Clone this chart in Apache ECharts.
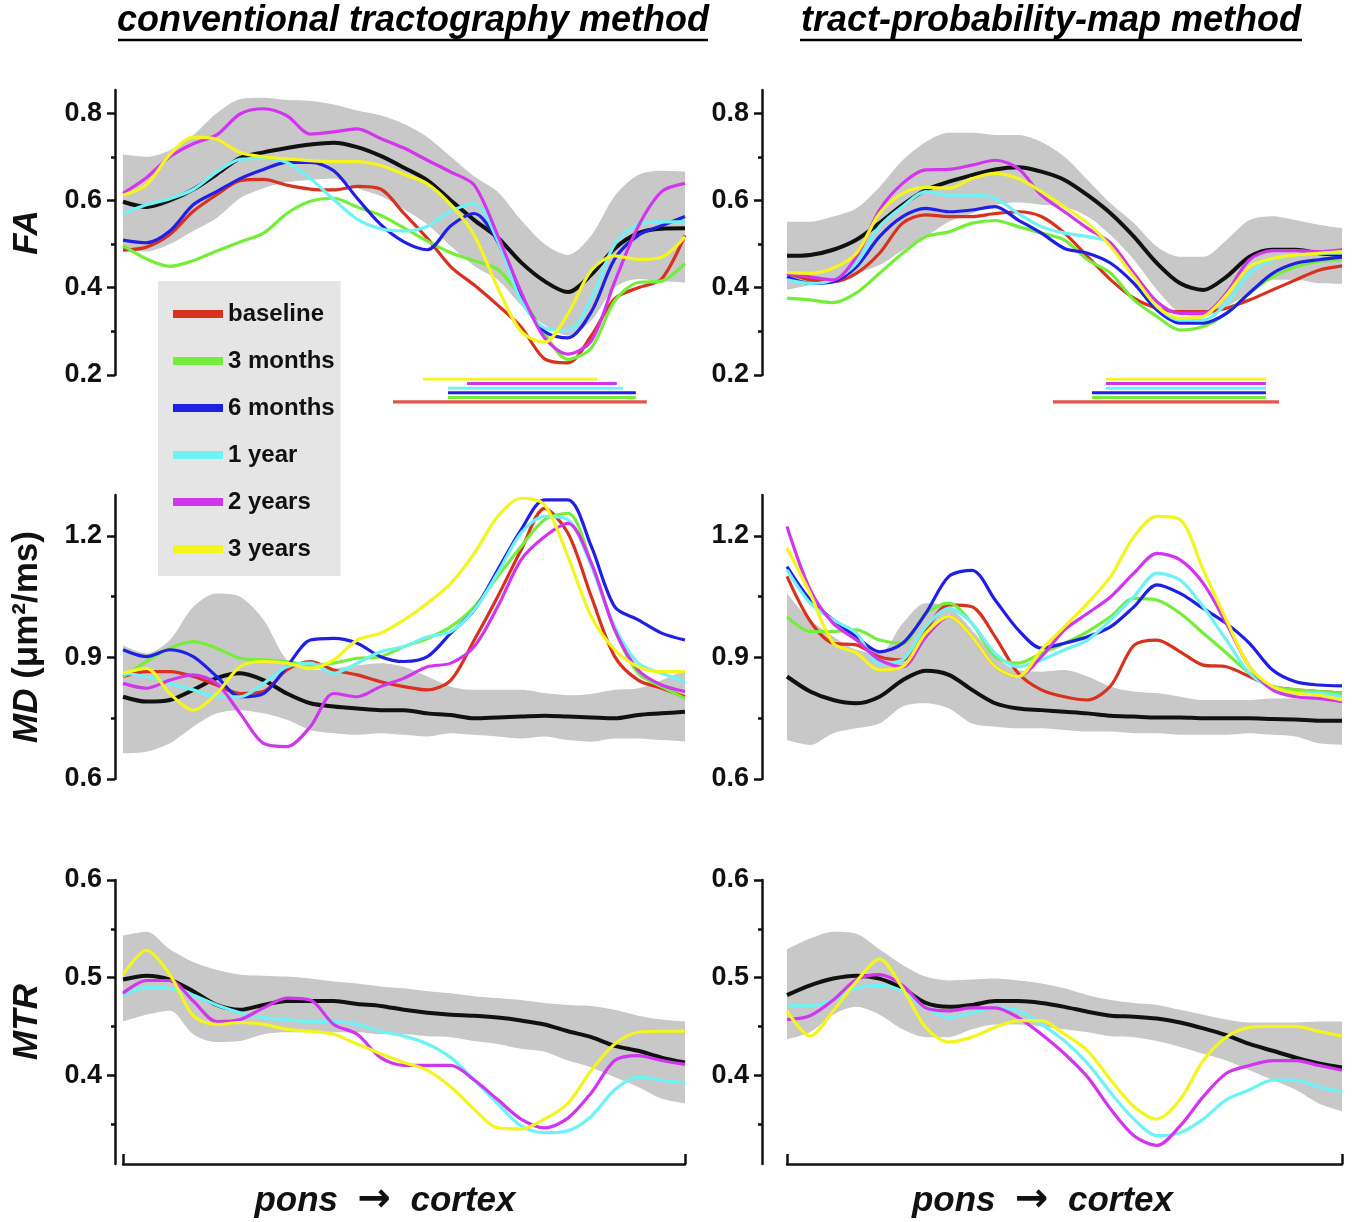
<!DOCTYPE html>
<html>
<head>
<meta charset="utf-8">
<script src="https://cdn.jsdelivr.net/npm/echarts@6/dist/echarts.min.js"></script>
<style>
html,body{margin:0;padding:0;background:#fff;}
#chart{width:1359px;height:1222px;}
</style>
</head>
<body>
<div id="chart"></div>
<script>
// ---------- data ----------
const tractPos = [0,1,2,3,4,5,6,7,8,9,10,11,12,13,14,15,16,17,18,19,20,21,22,23,24];
const groups = ['baseline','3 months','6 months','1 year','2 years','3 years'];

// FA, conventional tractography
const faL_lo   = [0.49,0.483,0.50,0.53,0.56,0.605,0.628,0.642,0.647,0.65,0.628,0.61,0.58,0.545,0.495,0.45,0.418,0.36,0.315,0.29,0.325,0.40,0.42,0.415,0.412];
const faL_hi   = [0.705,0.70,0.715,0.75,0.80,0.832,0.835,0.83,0.828,0.82,0.806,0.795,0.775,0.745,0.70,0.655,0.62,0.555,0.50,0.475,0.52,0.61,0.658,0.668,0.666];
const faL_mean = [0.597,0.585,0.60,0.625,0.66,0.697,0.71,0.72,0.728,0.732,0.722,0.702,0.675,0.646,0.60,0.555,0.515,0.458,0.415,0.39,0.43,0.49,0.525,0.535,0.536];
const faL_baseline = [0.486,0.493,0.522,0.575,0.613,0.645,0.648,0.635,0.626,0.624,0.632,0.626,0.57,0.513,0.448,0.406,0.36,0.31,0.237,0.228,0.29,0.375,0.40,0.42,0.52];
const faL_3m = [0.497,0.466,0.449,0.462,0.484,0.505,0.525,0.57,0.598,0.605,0.585,0.566,0.537,0.507,0.48,0.462,0.442,0.379,0.295,0.236,0.262,0.37,0.412,0.415,0.456];
const faL_6m = [0.509,0.503,0.53,0.59,0.62,0.65,0.671,0.687,0.687,0.668,0.605,0.545,0.505,0.487,0.542,0.57,0.506,0.38,0.30,0.285,0.345,0.466,0.52,0.542,0.563];
const faL_1y = [0.57,0.59,0.604,0.625,0.665,0.694,0.696,0.687,0.65,0.602,0.557,0.535,0.53,0.541,0.575,0.593,0.508,0.37,0.308,0.302,0.375,0.50,0.545,0.551,0.551];
const faL_2y = [0.616,0.652,0.70,0.73,0.75,0.798,0.81,0.794,0.752,0.757,0.764,0.742,0.72,0.692,0.665,0.635,0.52,0.39,0.285,0.248,0.278,0.414,0.54,0.62,0.639];
const faL_3y = [0.612,0.636,0.705,0.745,0.74,0.71,0.70,0.695,0.691,0.689,0.689,0.68,0.66,0.638,0.59,0.52,0.40,0.30,0.275,0.34,0.44,0.473,0.465,0.47,0.517];

// FA, tract-probability-map
const faR_lo   = [0.395,0.406,0.418,0.433,0.452,0.486,0.517,0.551,0.57,0.59,0.595,0.59,0.585,0.563,0.52,0.464,0.395,0.342,0.334,0.357,0.388,0.418,0.418,0.41,0.409];
const faR_hi   = [0.551,0.551,0.563,0.582,0.631,0.692,0.734,0.755,0.755,0.75,0.75,0.734,0.70,0.647,0.593,0.548,0.494,0.471,0.471,0.509,0.555,0.564,0.555,0.544,0.536];
const faR_mean = [0.473,0.475,0.487,0.51,0.548,0.59,0.624,0.643,0.658,0.671,0.676,0.666,0.647,0.612,0.57,0.517,0.456,0.41,0.395,0.425,0.471,0.487,0.487,0.479,0.475];
const faR_baseline = [0.433,0.418,0.414,0.433,0.479,0.548,0.567,0.563,0.563,0.57,0.574,0.563,0.525,0.471,0.418,0.376,0.353,0.345,0.345,0.353,0.372,0.395,0.418,0.44,0.45];
const faR_3m = [0.376,0.372,0.366,0.388,0.433,0.479,0.517,0.528,0.548,0.554,0.54,0.525,0.509,0.464,0.433,0.372,0.334,0.303,0.311,0.341,0.388,0.425,0.448,0.46,0.465];
const faR_6m = [0.425,0.41,0.414,0.448,0.517,0.563,0.582,0.574,0.578,0.586,0.555,0.525,0.49,0.479,0.456,0.41,0.349,0.319,0.319,0.341,0.388,0.433,0.456,0.464,0.47];
const faR_1y = [0.418,0.41,0.418,0.456,0.54,0.586,0.62,0.612,0.612,0.605,0.57,0.54,0.525,0.517,0.502,0.425,0.357,0.326,0.326,0.364,0.433,0.464,0.475,0.479,0.479];
const faR_2y = [0.433,0.425,0.418,0.471,0.578,0.639,0.67,0.671,0.681,0.692,0.673,0.612,0.574,0.536,0.502,0.433,0.368,0.341,0.341,0.388,0.464,0.485,0.485,0.483,0.487];
const faR_3y = [0.435,0.433,0.445,0.479,0.57,0.616,0.63,0.628,0.65,0.662,0.65,0.62,0.585,0.548,0.494,0.425,0.357,0.33,0.334,0.383,0.448,0.467,0.475,0.479,0.483];

// MD, conventional tractography
const mdL_lo   = [0.663,0.667,0.688,0.729,0.762,0.77,0.762,0.746,0.721,0.713,0.709,0.713,0.709,0.705,0.713,0.709,0.705,0.70,0.705,0.696,0.692,0.70,0.70,0.696,0.692];
const mdL_hi   = [0.93,0.91,0.943,1.025,1.058,1.05,0.993,0.894,0.869,0.873,0.881,0.886,0.877,0.853,0.828,0.82,0.82,0.82,0.812,0.807,0.81,0.82,0.824,0.844,0.869];
const mdL_mean = [0.803,0.791,0.795,0.82,0.849,0.861,0.844,0.811,0.787,0.779,0.774,0.77,0.77,0.762,0.758,0.75,0.752,0.754,0.756,0.754,0.752,0.75,0.758,0.762,0.766];
const mdL_baseline = [0.853,0.865,0.865,0.853,0.832,0.811,0.816,0.869,0.89,0.869,0.857,0.84,0.828,0.82,0.844,0.943,1.05,1.165,1.268,1.207,1.05,0.902,0.844,0.824,0.803];
const mdL_3m = [0.853,0.89,0.923,0.939,0.923,0.898,0.894,0.89,0.881,0.886,0.898,0.902,0.927,0.947,0.976,1.025,1.10,1.174,1.24,1.256,1.133,0.968,0.861,0.828,0.799];
const mdL_6m = [0.919,0.902,0.919,0.902,0.853,0.803,0.811,0.877,0.943,0.947,0.935,0.902,0.89,0.902,0.96,1.017,1.116,1.215,1.289,1.289,1.174,1.025,0.993,0.96,0.943];
const mdL_1y = [0.861,0.853,0.836,0.82,0.803,0.803,0.836,0.877,0.886,0.861,0.886,0.914,0.927,0.951,0.964,1.017,1.108,1.207,1.248,1.24,1.125,0.976,0.886,0.861,0.84];
const mdL_2y = [0.836,0.824,0.844,0.857,0.836,0.762,0.688,0.68,0.729,0.811,0.803,0.828,0.849,0.877,0.886,0.927,1.025,1.141,1.198,1.231,1.133,0.968,0.869,0.832,0.816];
const mdL_3y = [0.861,0.873,0.811,0.77,0.811,0.877,0.89,0.886,0.873,0.894,0.943,0.96,0.993,1.034,1.083,1.157,1.248,1.293,1.277,1.149,1.001,0.919,0.877,0.865,0.865];

// MD, tract-probability-map
const mdR_lo   = [0.696,0.684,0.713,0.725,0.737,0.779,0.787,0.774,0.737,0.729,0.725,0.725,0.721,0.717,0.717,0.713,0.713,0.709,0.709,0.709,0.713,0.709,0.705,0.688,0.684];
const mdR_hi   = [1.058,0.993,0.952,0.919,0.911,0.984,1.034,1.025,0.968,0.902,0.869,0.865,0.869,0.853,0.828,0.816,0.812,0.803,0.795,0.795,0.795,0.799,0.799,0.799,0.795];
const mdR_mean = [0.853,0.816,0.795,0.787,0.803,0.844,0.867,0.857,0.82,0.787,0.774,0.77,0.766,0.762,0.756,0.754,0.752,0.752,0.75,0.75,0.75,0.748,0.747,0.744,0.744];
const mdR_baseline = [1.10,0.99,0.935,0.931,0.902,0.894,0.968,1.03,1.025,0.951,0.861,0.82,0.803,0.795,0.83,0.93,0.943,0.914,0.881,0.877,0.853,0.828,0.82,0.816,0.812];
const mdR_3m = [1.001,0.964,0.964,0.968,0.943,0.935,1.009,1.034,0.984,0.902,0.886,0.91,0.935,0.964,1.001,1.046,1.042,1.009,0.96,0.911,0.861,0.828,0.82,0.816,0.812];
const mdR_6m = [1.124,1.042,0.993,0.951,0.914,0.935,1.009,1.10,1.115,1.042,0.968,0.923,0.935,0.951,0.976,1.025,1.079,1.058,1.021,0.984,0.935,0.869,0.84,0.832,0.83];
const mdR_1y = [1.116,1.034,0.993,0.96,0.886,0.894,0.976,1.021,0.984,0.91,0.877,0.894,0.919,0.943,0.993,1.05,1.108,1.091,1.025,0.943,0.861,0.824,0.812,0.812,0.803];
const mdR_2y = [1.223,1.067,0.984,0.943,0.894,0.877,0.951,1.001,0.951,0.877,0.853,0.902,0.968,1.009,1.05,1.108,1.157,1.141,1.083,0.984,0.877,0.82,0.803,0.799,0.791];
const mdR_3y = [1.17,1.058,0.935,0.911,0.869,0.877,0.96,1.001,0.951,0.877,0.853,0.919,0.976,1.034,1.10,1.198,1.248,1.24,1.116,0.993,0.877,0.828,0.812,0.807,0.795];

// MTR, conventional tractography
const mtrL_lo   = [0.455,0.462,0.466,0.442,0.434,0.435,0.442,0.444,0.444,0.444,0.444,0.442,0.442,0.44,0.439,0.435,0.432,0.427,0.424,0.415,0.408,0.398,0.388,0.376,0.371];
const mtrL_hi   = [0.543,0.547,0.529,0.516,0.508,0.503,0.502,0.501,0.499,0.496,0.494,0.491,0.489,0.486,0.484,0.481,0.479,0.477,0.474,0.472,0.471,0.467,0.461,0.457,0.455];
const mtrL_mean = [0.498,0.502,0.498,0.486,0.472,0.467,0.472,0.476,0.476,0.476,0.473,0.471,0.467,0.464,0.462,0.461,0.459,0.456,0.452,0.445,0.439,0.43,0.425,0.418,0.413];
const mtrL_1y = [0.482,0.49,0.489,0.482,0.472,0.464,0.459,0.457,0.455,0.455,0.452,0.445,0.44,0.432,0.418,0.395,0.371,0.348,0.341,0.343,0.358,0.385,0.398,0.395,0.392];
const mtrL_2y = [0.484,0.497,0.497,0.476,0.455,0.457,0.469,0.479,0.477,0.452,0.442,0.418,0.41,0.41,0.41,0.395,0.375,0.355,0.346,0.356,0.382,0.415,0.42,0.415,0.411];
const mtrL_3y = [0.503,0.528,0.503,0.461,0.452,0.454,0.452,0.447,0.445,0.442,0.432,0.422,0.413,0.405,0.388,0.365,0.346,0.345,0.355,0.371,0.405,0.432,0.444,0.445,0.445];

// MTR, tract-probability-map
const mtrR_lo   = [0.437,0.444,0.462,0.47,0.462,0.447,0.439,0.439,0.447,0.452,0.452,0.45,0.447,0.444,0.44,0.439,0.435,0.429,0.422,0.415,0.405,0.395,0.385,0.371,0.363];
const mtrR_hi   = [0.529,0.54,0.547,0.545,0.529,0.513,0.501,0.497,0.498,0.499,0.497,0.494,0.489,0.482,0.477,0.474,0.472,0.467,0.462,0.457,0.454,0.454,0.454,0.455,0.455];
const mtrR_mean = [0.482,0.492,0.499,0.502,0.499,0.489,0.474,0.47,0.472,0.476,0.476,0.474,0.47,0.465,0.461,0.46,0.458,0.454,0.448,0.441,0.432,0.425,0.418,0.412,0.408];
const mtrR_1y = [0.472,0.471,0.477,0.489,0.492,0.486,0.469,0.459,0.464,0.469,0.466,0.452,0.435,0.412,0.382,0.355,0.338,0.341,0.355,0.375,0.385,0.395,0.395,0.388,0.383];
const mtrR_2y = [0.457,0.461,0.477,0.498,0.503,0.492,0.469,0.466,0.469,0.469,0.459,0.442,0.422,0.398,0.365,0.338,0.328,0.348,0.378,0.402,0.41,0.415,0.415,0.41,0.405];
const mtrR_3y = [0.466,0.44,0.466,0.496,0.519,0.489,0.449,0.434,0.439,0.449,0.456,0.456,0.442,0.425,0.395,0.368,0.355,0.375,0.415,0.439,0.449,0.45,0.45,0.445,0.44];

// significant FA differences (tract positions), rows: 3 years, 2 years, 1 year, 6 months, 3 months, baseline
const sigOrder = [5,4,3,2,1,0];
const sigL_start = [12.81,14.69,13.88,13.88,13.88,11.53];
const sigL_end   = [20.24,21.09,21.35,21.90,21.90,22.37];
const sigR_start = [13.79,13.79,13.79,13.19,13.19,11.50];
const sigR_end   = [20.71,20.71,20.71,20.71,20.71,21.28];

// tick labels
const faTicks = [0.2,0.4,0.6,0.8],  faMinor = [0.3,0.5,0.7];
const mdTicks = [0.6,0.9,1.2],      mdMinor = [0.75,1.05];
const mtrTicks = [0.4,0.5,0.6],     mtrMinor = [0.35,0.45,0.55];

// ---------- styles ----------
const groupColors = ['#d8321f','#74ee3a','#1f1fe6','#6ef2f6','#d136ee','#f4f41e'];
const FONT = '"Liberation Sans", Arial, sans-serif';
const BAND = '#c8c8c8';
const INK = '#111';

const colL = {left:123, width:562, offset:8, namePad:38};
const colR = {left:787, width:555, offset:25, namePad:44};
const rowFA  = {top:90,  height:285, min:0.2,  max:0.853, ticks:faTicks,  minor:faMinor};
const rowMD  = {top:495, height:284, min:0.6,  max:1.301, ticks:mdTicks,  minor:mdMinor};
const rowMTR = {top:880, height:287, min:0.309, max:0.6,  ticks:mtrTicks, minor:mtrMinor};

const panels = [
  {col:colL, row:rowFA,  bottom:false, name:'FA', lo:faL_lo, hi:faL_hi, mean:faL_mean, lines:[faL_baseline,faL_3m,faL_6m,faL_1y,faL_2y,faL_3y]},
  {col:colR, row:rowFA,  bottom:false, name:null, lo:faR_lo, hi:faR_hi, mean:faR_mean, lines:[faR_baseline,faR_3m,faR_6m,faR_1y,faR_2y,faR_3y]},
  {col:colL, row:rowMD,  bottom:false, name:'{i|MD} {n|(μm²/ms)}', lo:mdL_lo, hi:mdL_hi, mean:mdL_mean, lines:[mdL_baseline,mdL_3m,mdL_6m,mdL_1y,mdL_2y,mdL_3y]},
  {col:colR, row:rowMD,  bottom:false, name:null, lo:mdR_lo, hi:mdR_hi, mean:mdR_mean, lines:[mdR_baseline,mdR_3m,mdR_6m,mdR_1y,mdR_2y,mdR_3y]},
  {col:colL, row:rowMTR, bottom:true,  name:'MTR', lo:mtrL_lo, hi:mtrL_hi, mean:mtrL_mean, lines:[null,null,null,mtrL_1y,mtrL_2y,mtrL_3y]},
  {col:colR, row:rowMTR, bottom:true,  name:null, lo:mtrR_lo, hi:mtrR_hi, mean:mtrR_mean, lines:[null,null,null,mtrR_1y,mtrR_2y,mtrR_3y]}
];

function diffVals(hi, lo){ return hi.map((v,i)=> +(v - lo[i]).toFixed(4)); }

const grids=[], xAxes=[], yAxes=[], series=[];
const SMOOTH = 0.3;
const lastPos = tractPos.length - 1;

panels.forEach((p,k)=>{
  grids.push({left:p.col.left, top:p.row.top, width:p.col.width, height:p.row.height});
  xAxes.push({
    type:'category', gridIndex:k, data:tractPos, boundaryGap:false, show:p.bottom,
    axisLine:{show:true, onZero:false, lineStyle:{color:INK, width:2.5}},
    axisTick:{show:true, inside:true, length:10, interval:(i)=> i===0 || i===lastPos, lineStyle:{color:INK, width:2.5}},
    axisLabel:{show:false}, splitLine:{show:false},
    name: p.bottom ? '{t|pons}  {a|→}  {t|cortex}' : '', nameLocation:'middle', nameGap:17,
    nameTextStyle:{fontFamily:FONT, fontSize:35, fontWeight:'bold', fontStyle:'italic', color:INK, padding:[0,p.col.namePad,0,0],
      rich:{t:{fontFamily:FONT, fontSize:35, fontWeight:'bold', fontStyle:'italic', color:INK},
            a:{fontFamily:'"DejaVu Sans", sans-serif', fontSize:40, fontWeight:'bold', color:INK}}}
  });
  const yi = yAxes.length;
  const base = {type:'value', gridIndex:k, min:p.row.min, max:p.row.max, position:'left', offset:p.col.offset, splitLine:{show:false}};
  yAxes.push(Object.assign({}, base, {
    axisLine:{show:true, onZero:false, lineStyle:{color:INK, width:2.5}},
    axisTick:{show:true, length:8, customValues:p.row.ticks, lineStyle:{color:INK, width:2.5}},
    axisLabel:{show:true, customValues:p.row.ticks, margin:13, fontFamily:FONT, fontSize:27, fontWeight:'bold', color:INK},
    name: p.name || '', nameLocation:'middle', nameRotate:90, nameGap:70,
    nameTextStyle:{fontFamily:FONT, fontSize:35, fontWeight:'bold', fontStyle:'italic', color:INK,
      rich:{i:{fontFamily:FONT, fontSize:35, fontWeight:'bold', fontStyle:'italic', color:INK},
            n:{fontFamily:FONT, fontSize:35, fontWeight:'bold', fontStyle:'normal', color:INK}}}
  }));
  yAxes.push(Object.assign({}, base, {
    axisLine:{show:false, onZero:false},
    axisTick:{show:true, length:4, customValues:p.row.minor, lineStyle:{color:INK, width:2.5}},
    axisLabel:{show:false}
  }));
  series.push({type:'line', name:'range_lo_'+k, xAxisIndex:k, yAxisIndex:yi, data:p.lo, stack:'band'+k,
    symbol:'none', smooth:SMOOTH, lineStyle:{width:0, opacity:0}, silent:true, z:1});
  series.push({type:'line', name:'range_'+k, xAxisIndex:k, yAxisIndex:yi, data:diffVals(p.hi,p.lo), stack:'band'+k,
    symbol:'none', smooth:SMOOTH, lineStyle:{width:0, opacity:0}, areaStyle:{color:BAND, opacity:1}, silent:true, z:1});
  series.push({type:'line', name:'controls_'+k, xAxisIndex:k, yAxisIndex:yi, data:p.mean,
    symbol:'none', smooth:SMOOTH, lineStyle:{width:4, color:INK}, color:INK, silent:true, z:2});
  p.lines.forEach((arr,g)=>{
    if(!arr) return;
    series.push({type:'line', name:groups[g], xAxisIndex:k, yAxisIndex:yi, data:arr,
      symbol:'none', smooth:SMOOTH, color:groupColors[g], lineStyle:{width:3.2, color:groupColors[g]}, z:3});
  });
});

// significance bars under the FA panels
[[colL, sigL_start, sigL_end],[colR, sigR_start, sigR_end]].forEach(([col, st, en])=>{
  const gi = grids.length;
  grids.push({left:col.left, top:379, width:col.width, height:23});
  xAxes.push({type:'value', gridIndex:gi, min:0, max:lastPos, show:false});
  const yi = yAxes.length;
  yAxes.push({type:'value', gridIndex:gi, min:0, max:5, inverse:true, show:false});
  sigOrder.forEach((g,r)=>{
    series.push({type:'line', name:'sig_'+gi+'_'+r, xAxisIndex:gi, yAxisIndex:yi,
      data:[[st[r], r],[en[r], r]], symbol:'none', silent:true,
      lineStyle:{width: g===0 ? 3.5 : 3, color: g===0 ? '#e0584c' : groupColors[g]}});
  });
});

const chart = echarts.init(document.getElementById('chart'), null, {renderer:'canvas'});
chart.setOption({
  animation:false,
  backgroundColor:'#fff',
  grid:grids, xAxis:xAxes, yAxis:yAxes, series:series,
  legend:{
    data:groups, orient:'vertical', left:158, top:281,
    padding:[21,6,15,15], itemGap:23, itemWidth:50, itemHeight:8, icon:'rect',
    backgroundColor:'#e5e5e5', borderWidth:0,
    textStyle:{fontFamily:FONT, fontSize:24, fontWeight:'bold', color:INK},
    selectedMode:false
  },
  graphic:[
    {type:'text', x:413, y:21, style:{text:'conventional tractography method', font:'italic bold 36px "Liberation Sans", Arial, sans-serif', fill:'#000', align:'center', verticalAlign:'middle'}},
    {type:'line', shape:{x1:118, y1:40, x2:708, y2:40}, style:{stroke:'#000', lineWidth:2.5}},
    {type:'text', x:1051, y:21, style:{text:'tract-probability-map method', font:'italic bold 36px "Liberation Sans", Arial, sans-serif', fill:'#000', align:'center', verticalAlign:'middle'}},
    {type:'line', shape:{x1:800, y1:40, x2:1302, y2:40}, style:{stroke:'#000', lineWidth:2.5}}
  ]
});
</script>
</body>
</html>
